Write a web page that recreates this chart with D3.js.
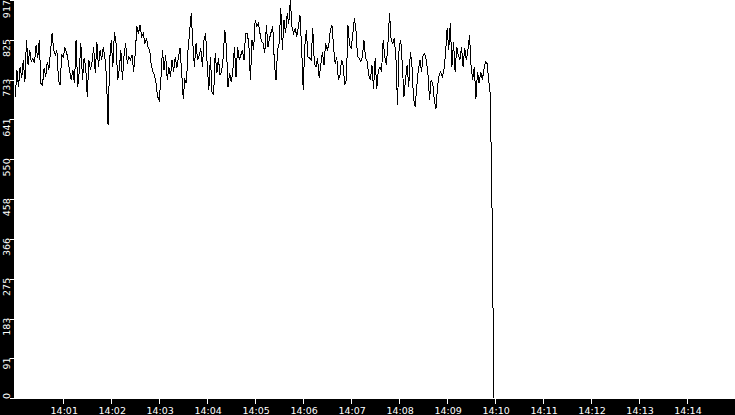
<!DOCTYPE html>
<html>
<head>
<meta charset="utf-8">
<script src="https://cdn.jsdelivr.net/npm/d3@7"></script>
<style>
  body { margin: 0; background: #000; }
  svg { display: block; }
  .lbl { fill: #fff; font-family: "DejaVu Sans", sans-serif; font-size: 9.5px; }
</style>
</head>
<body>
<div id="chart"></div>
<script>
// svg size, same as the window
var svgWidth = 735;
var svgHeight = 415;

// plot box inside the black frame
var margin = { top: 0, right: 0, bottom: 16, left: 14 };

// samples are 2 seconds apart starting at 14:00:00
var startTime = new Date(2000, 0, 1, 14, 0, 0);
var endTime = new Date(2000, 0, 1, 14, 15, 0);
var stepSeconds = 2;

// y axis tick labels (max 917)
var yMax = 917;
var yTickLabels = ["0", "91", "183", "275", "366", "458", "550", "641", "733", "825", "917"];

// x axis tick labels, one per minute
var xTickLabels = ["14:01", "14:02", "14:03", "14:04", "14:05", "14:06", "14:07",
  "14:08", "14:09", "14:10", "14:11", "14:12", "14:13", "14:14"];

// readings 14:00:00 - 14:04:50
var valuesA = [
  694, 756, 717, 763, 737, 779, 729, 825, 767, 802,
  775, 783, 771, 813, 783, 825, 725, 721, 760, 740,
  775, 756, 798, 840, 802, 790, 802, 733, 721, 790,
  786, 806, 798, 779, 752, 733, 756, 725, 825, 717,
  752, 817, 733, 783, 763, 694, 779, 756, 775, 809,
  748, 821, 763, 802, 779, 809, 786, 740, 629, 779,
  825, 763, 844, 817, 733, 756, 802, 733, 790, 817,
  771, 786, 779, 790, 752, 794, 856, 840, 859, 833,
  840, 817, 829, 809, 802, 767, 752, 744, 725, 694,
  687, 733, 802, 756, 790, 733, 763, 740, 779, 752,
  786, 760, 786, 806, 752, 690, 733, 725, 802, 844,
  886, 817, 763, 817, 779, 790, 806, 763, 825, 840,
  767, 710, 786, 706, 698, 794, 748, 783, 744, 752,
  786, 848, 809, 717, 748, 729, 752, 809, 740, 809,
  779, 790, 802, 779, 840
];

// readings 14:04:50 - 14:09:54
var valuesB = [
  840, 817, 733, 825, 802, 871, 856, 863, 840, 821,
  817, 794, 859, 809, 829, 844, 856, 771, 733, 802,
  817, 898, 802, 871, 840, 886, 863, 917, 856, 840,
  852, 833, 856, 882, 809, 710, 809, 848, 786, 783,
  779, 852, 771, 763, 783, 737, 767, 798, 767, 817,
  802, 813, 848, 859, 809, 771, 786, 733, 744, 779,
  767, 721, 733, 859, 813, 806, 836, 875, 848, 786,
  783, 775, 786, 825, 783, 775, 744, 733, 767, 713,
  783, 713, 756, 763, 752, 825, 786, 767, 817, 886,
  825, 817, 829, 783, 675, 809, 825, 767, 694, 733,
  767, 717, 798, 767, 690, 671, 717, 756, 779, 752,
  790, 794, 779, 748, 687, 733, 725, 687, 667, 717,
  744, 752, 740, 756, 794, 852, 802, 863, 763, 821,
  752, 809, 790, 779, 809, 763, 806, 779, 802, 836,
  763, 733, 763, 690, 752, 725, 752, 733, 756, 775,
  771, 733, 698
];

// feed stops just before 14:10
var dropTimes = ["14:09:57", "14:09:58"];
var dropValues = [336, 0];

function parseClock(s) {
  var p = s.split(":");
  return new Date(2000, 0, 1, +p[0], +p[1], p.length > 2 ? +p[2] : 0);
}

var data = valuesA.concat(valuesB).map(function(v, i) {
  return { t: new Date(startTime.getTime() + i * stepSeconds * 1000), v: v };
});
dropValues.forEach(function(v, i) {
  data.push({ t: parseClock(dropTimes[i]), v: v });
});

var svg = d3.select("#chart")
  .append("svg")
  .attr("width", svgWidth)
  .attr("height", svgHeight);

// black frame behind everything
svg.append("rect")
  .attr("width", svgWidth)
  .attr("height", svgHeight)
  .attr("fill", "#000");

// white plot area
var plotBottom = svgHeight - margin.bottom;
svg.append("rect")
  .attr("x", margin.left)
  .attr("y", margin.top)
  .attr("width", svgWidth - margin.left - margin.right)
  .attr("height", plotBottom - margin.top)
  .attr("fill", "#fff");

// scales
var xScale = d3.scaleTime()
  .domain([startTime, endTime])
  .range([15.3, svgWidth]);

var yScale = d3.scaleLinear()
  .domain([0, yMax])
  .range([plotBottom - 0.7, 0]);

// x axis: minute ticks under the plot
var xTicks = xTickLabels.map(parseClock);

var xAxis = svg.append("g")
  .attr("transform", `translate(0, ${plotBottom})`);

xAxis.selectAll("line")
  .data(xTicks)
  .enter()
  .append("line")
  .attr("x1", d => Math.round(xScale(d)) + 0.5)
  .attr("x2", d => Math.round(xScale(d)) + 0.5)
  .attr("y1", 0)
  .attr("y2", 5)
  .attr("stroke", "#fff")
  .attr("shape-rendering", "crispEdges");

xAxis.selectAll("text")
  .data(xTicks)
  .enter()
  .append("text")
  .attr("class", "lbl")
  .attr("x", d => xScale(d) + 1)
  .attr("y", 15)
  .attr("text-anchor", "middle")
  .text((d, i) => xTickLabels[i]);

// y axis: rotated labels in the left band
var yTicks = yTickLabels.map((s, i) => yMax * i / 10);

var yAxis = svg.append("g");

yAxis.selectAll("line")
  .data(yTicks)
  .enter()
  .append("line")
  .attr("x1", 10)
  .attr("x2", margin.left)
  .attr("y1", d => Math.round(yScale(d)) + 0.5)
  .attr("y2", d => Math.round(yScale(d)) + 0.5)
  .attr("stroke", "#fff")
  .attr("shape-rendering", "crispEdges");

var yLabels = yAxis.selectAll("text")
  .data(yTicks)
  .enter()
  .append("text")
  .attr("class", "lbl")
  .attr("text-anchor", "end")
  .attr("transform", "rotate(-90)")
  .attr("y", 10)
  .text((d, i) => yTickLabels[i]);

// keep labels inside the plot height
yLabels.each(function(d) {
  var len = this.getComputedTextLength();
  var top = Math.max(0, yScale(d) - 1);
  top = Math.min(top, plotBottom - len);
  d3.select(this).attr("x", -top);
});

// the line itself, no antialiasing like the original
svg.append("path")
  .datum(data)
  .attr("fill", "none")
  .attr("stroke", "#000")
  .attr("stroke-width", 1)
  .attr("shape-rendering", "crispEdges")
  .attr("d", d3.line()
    .x(d => xScale(d.t))
    .y(d => yScale(d.v)));
</script>
</body>
</html>
